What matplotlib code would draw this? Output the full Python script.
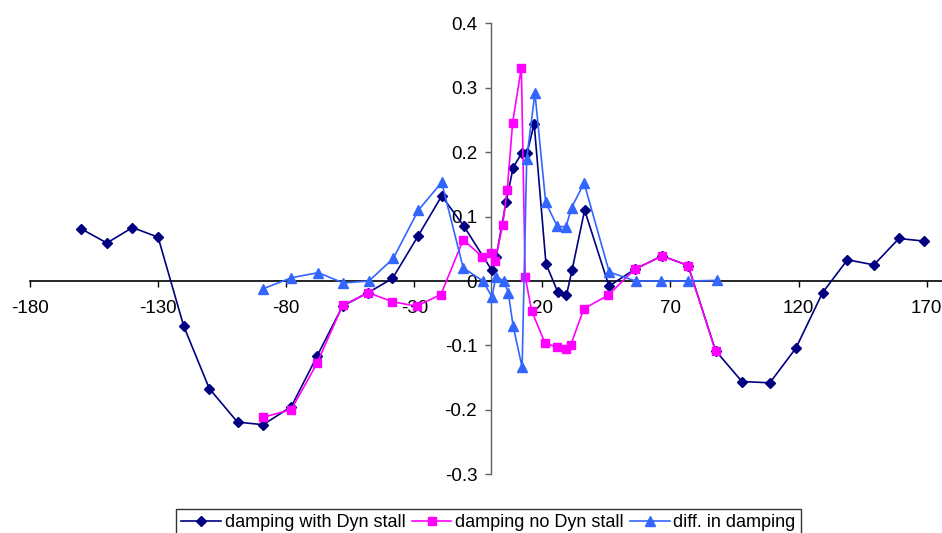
import matplotlib
matplotlib.use("Agg")
import matplotlib.pyplot as plt
from matplotlib.ticker import FuncFormatter, MultipleLocator

plt.rcParams['font.family'] = ['Liberation Sans', 'DejaVu Sans']
plt.rcParams['axes.unicode_minus'] = False

# series 1: damping with Dyn stall
x_dyn = [-160, -150, -140, -130, -120, -110, -99, -89, -78, -68, -58, -48, -38.5, -28.5,
         -19.3, -10.6, 0.2, 2, 5.8, 8.6, 12, 14, 16.8, 21.4, 26, 29.4, 31.6, 36.5, 46, 56,
         66.7, 76.9, 87.6, 97.9, 108.8, 119, 129.4, 139.1, 149.4, 159.2, 168.9]
y_dyn = [0.081, 0.059, 0.083, 0.068, -0.070, -0.167, -0.219, -0.223, -0.195, -0.117,
         -0.039, -0.018, 0.004, 0.070, 0.132, 0.085, 0.017, 0.038, 0.122, 0.176, 0.199,
         0.198, 0.244, 0.027, -0.017, -0.022, 0.017, 0.110, -0.008, 0.018, 0.039, 0.024,
         -0.108, -0.156, -0.158, -0.104, -0.018, 0.033, 0.025, 0.066, 0.062]

# series 2: damping no Dyn stall
x_nodyn = [-89, -78, -68, -58, -48, -38.6, -29.1, -19.6, -10.9, -3.5, -0.2, 1.5, 4.5, 6.3,
           8.4, 11.8, 13.3, 15.8, 21, 25.8, 29.1, 31.1, 36.2, 45.7, 56, 66.7, 76.9, 87.6]
y_nodyn = [-0.2115, -0.1995, -0.128, -0.038, -0.018, -0.032, -0.039, -0.021, 0.064, 0.038,
           0.043, 0.031, 0.087, 0.142, 0.246, 0.331, 0.0065, -0.046, -0.096, -0.103, -0.105,
           -0.099, -0.043, -0.022, 0.018, 0.039, 0.024, -0.109]

# series 3: diff. in damping
x_diff = [-89, -78, -67.5, -57.7, -47.7, -38.2, -28.4, -19.3, -10.9, -3.2, 0.3, 1.9, 5, 6.7,
          8.6, 12.1, 13.9, 17.1, 21.3, 25.8, 29.2, 31.4, 36.3, 46.1, 56.4, 66.5, 76.9, 88]
y_diff = [-0.012, 0.005, 0.013, -0.003, 0.0, 0.035, 0.110, 0.153, 0.0205, 0.0, -0.0245,
          0.007, 0.0, -0.018, -0.070, -0.134, 0.190, 0.292, 0.122, 0.085, 0.084, 0.114,
          0.152, 0.014, 0.0, 0.0, 0.0, 0.001]

labels = ["damping with Dyn stall", "damping no Dyn stall", "diff. in damping"]
x_ticks = [-180, -130, -80, -30, 20, 70, 120, 170]

W, H = 942, 533
fig = plt.figure(figsize=(W / 100, H / 100), dpi=100)
ax = fig.add_axes([30 / W, (H - 474.3) / H, 912 / W, 451 / H])
ax.set_xlim(-180, 176)
ax.set_ylim(-0.3, 0.4)

l1, = ax.plot(x_dyn, y_dyn, color='#000080', lw=1.2, marker='D', ms=5,
              mec='#000080', mfc='#000080', label=labels[0], zorder=3)
l2, = ax.plot(x_nodyn, y_nodyn, color='#FF00FF', lw=1.2, marker='s', ms=6,
              mec='#FF00FF', mfc='#FF00FF', label=labels[1], zorder=4)
l3, = ax.plot(x_diff, y_diff, color='#3366FF', lw=1.2, marker='^', ms=7,
              mec='#3366FF', mfc='#3366FF', label=labels[2], zorder=5)

for s in ['top', 'right']:
    ax.spines[s].set_visible(False)
ax.spines['left'].set_position(('data', 0))
ax.spines['bottom'].set_position(('data', 0))
ax.spines['left'].set_color('#606060')
ax.spines['bottom'].set_color('black')
ax.spines['left'].set_linewidth(1.0)
ax.spines['bottom'].set_linewidth(1.2)
ax.spines['bottom'].set_zorder(2)
ax.spines['left'].set_zorder(2)

ax.set_xticks(x_ticks)
ax.yaxis.set_major_locator(MultipleLocator(0.1))
ax.yaxis.set_major_formatter(FuncFormatter(lambda v, p: '0' if abs(v) < 1e-9 else f'{v:.1f}'))
ax.tick_params(axis='x', direction='out', length=4, width=1, pad=10, labelsize=13.5, color='black')
ax.tick_params(axis='y', direction='out', length=4, width=1, pad=6, labelsize=13.5, color='#606060')
ax.patch.set_visible(False)

leg = fig.legend(handles=[l1, l2, l3], loc='upper center', bbox_to_anchor=(488.5 / W, 1 - 509 / H),
                 ncol=3, frameon=True, fancybox=False, edgecolor='black', fontsize=13,
                 handlelength=2.2, handletextpad=0.2, columnspacing=0.35, borderpad=0.3,
                 borderaxespad=0)
leg.get_frame().set_linewidth(1.0)

fig.savefig('out.png', dpi=100)
